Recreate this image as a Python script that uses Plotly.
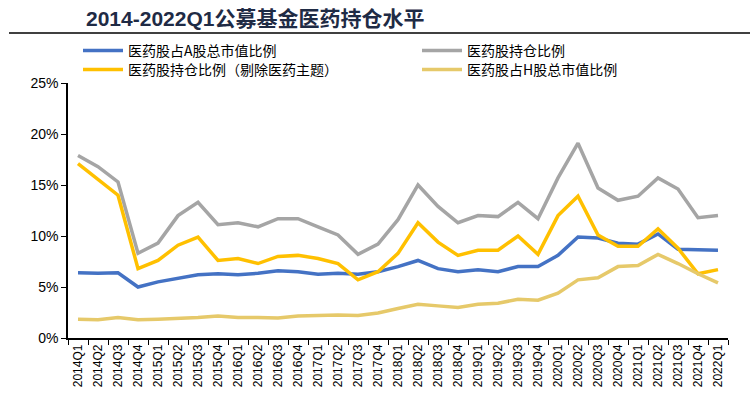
import plotly.graph_objects as go

quarters = [f"{y}Q{q}" for y in range(2014, 2022) for q in range(1, 5)] + ["2022Q1"]

a_share = [6.4, 6.35, 6.4, 5.0, 5.5, 5.85, 6.2, 6.3, 6.2, 6.35, 6.6, 6.5, 6.25, 6.35, 6.25, 6.5,
           7.0, 7.6, 6.8, 6.5, 6.7, 6.5, 7.0, 7.0, 8.1, 9.9, 9.8, 9.3, 9.2, 10.2, 8.7, 8.65, 8.6]
holding = [17.9, 16.8, 15.3, 8.3, 9.3, 12.0, 13.3, 11.1, 11.3, 10.9, 11.7, 11.7, 10.9, 10.1, 8.2, 9.2,
           11.6, 15.0, 12.9, 11.3, 12.0, 11.9, 13.3, 11.7, 15.7, 19.1, 14.7, 13.5, 13.9, 15.7, 14.6, 11.8, 12.0]
holding_ex = [17.1, 15.6, 14.0, 6.8, 7.6, 9.1, 9.9, 7.6, 7.8, 7.3, 8.0, 8.1, 7.8, 7.3, 5.7, 6.5,
              8.3, 11.3, 9.4, 8.1, 8.6, 8.6, 10.0, 8.2, 12.0, 13.9, 10.1, 9.0, 9.0, 10.7, 8.8, 6.3, 6.7]
h_share = [1.85, 1.8, 2.0, 1.8, 1.85, 1.9, 2.0, 2.15, 2.0, 2.0, 1.95, 2.15, 2.2, 2.25, 2.2, 2.45,
           2.9, 3.3, 3.15, 3.0, 3.3, 3.4, 3.8, 3.7, 4.4, 5.7, 5.9, 7.0, 7.1, 8.2, 7.3, 6.3, 5.4]

names = ["医药股占A股总市值比例", "医药股持仓比例", "医药股持仓比例（剔除医药主题）", "医药股占H股总市值比例"]
series = [a_share, holding, holding_ex, h_share]
colors = ["#4472C4", "#A5A5A5", "#FFC000", "#E6C96A"]
legend_ids = ["legend", "legend2", "legend3", "legend4"]

W, H = 756, 417
L, R, T, B = 68, 28, 83, 79
pw, ph = W - L - R, H - T - B

def px(x):
    return (x - L) / pw

def py(y):
    return (H - B - y) / ph

fig = go.Figure()
for n, s, c, lg in zip(names, series, colors, legend_ids):
    fig.add_trace(go.Scatter(x=quarters, y=s, name=n, mode="lines", legend=lg,
                             line=dict(color=c, width=3.5)))

# legend slots: (left px of symbol, centre y px)
slots = [(83, 51), (422, 51), (83, 70), (422, 70)]
leg_font = dict(family="Noto Sans CJK SC", size=14, color="black")
for lg, (lx, ly) in zip(legend_ids, slots):
    fig.update_layout({lg: dict(x=px(lx - 5), y=py(ly), xanchor="left", yanchor="middle",
                                font=leg_font, bgcolor="rgba(0,0,0,0)", itemwidth=40,
                                orientation="v")})

fig.update_layout(
    width=W, height=H,
    margin=dict(l=L, r=R, t=T, b=B, autoexpand=False),
    plot_bgcolor="white", paper_bgcolor="white",
    font=dict(family="Liberation Sans, Arial, Noto Sans CJK SC", color="black"),
    showlegend=True,
    xaxis=dict(type="category", showline=True, linecolor="black", linewidth=1.5,
               ticks="outside", ticklen=5, tickcolor="black", tickson="boundaries",
               tickangle=-90, tickfont=dict(size=12, family="Liberation Sans, Arial"),
               showgrid=False, range=[-0.5, len(quarters) - 0.5], automargin=False),
    yaxis=dict(range=[0, 25], dtick=5, ticksuffix="%", showline=True, linecolor="black",
               linewidth=1.5, ticks="outside", ticklen=5, tickcolor="black",
               tickfont=dict(size=14, family="Liberation Sans, Arial"), showgrid=False,
               zeroline=False, automargin=False),
)

fig.add_annotation(text="<b>2014-2022Q1公募基金医药持仓水平</b>", xref="paper", yref="paper",
                   x=px(84), y=py(18), xanchor="left", yanchor="middle", showarrow=False,
                   font=dict(family="Liberation Sans, Noto Sans CJK SC", size=21, color="#1F2B45"))
fig.add_shape(type="line", xref="paper", yref="paper", x0=px(9), x1=px(750), y0=py(33), y1=py(33),
              line=dict(color="black", width=1.5))

fig.write_html("out.html", config={"displayModeBar": False},
               post_script="document.body.style.margin='0';")
